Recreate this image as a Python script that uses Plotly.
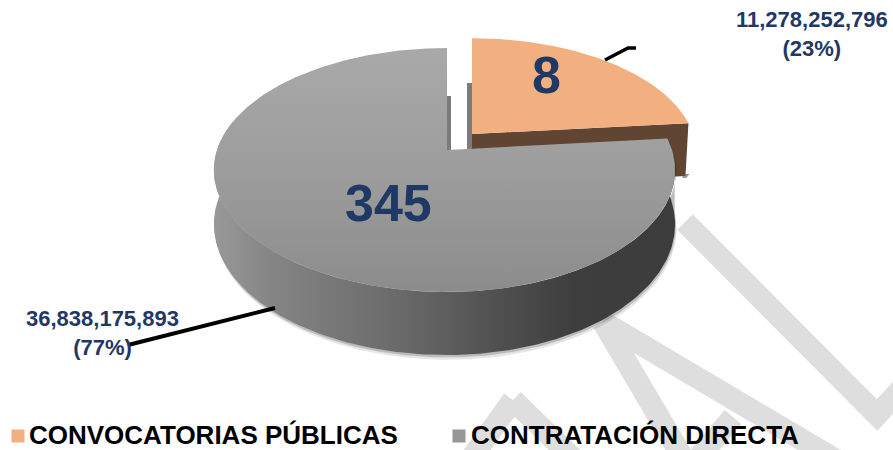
import numpy as np
import plotly.graph_objects as go

categories = ["CONVOCATORIAS PÚBLICAS", "CONTRATACIÓN DIRECTA"]
amounts = [11278252796, 36838175893]
counts = [8, 345]
W, H = 893, 450
NAVY = "#1F3864"
FONT = "Liberation Sans"

# pie geometry (pixels, y down)
GRAY_C = (447, 150)
PEACH_C = (472, 134)
A_R, A_L, B, K = 225, 230, 118.7, 0.164
DEPTH = 52.7
share = amounts[0] / sum(amounts)
split = share * 2 * np.pi


def rim(t, c, drop=0.0, ar=A_R, b=B):
    t = np.asarray(t)
    u, v = np.sin(t), np.cos(t)
    w = 1 + K * v
    a = np.where(u >= 0, ar, A_L)
    return c[0] + a * u / w, c[1] - b * v / w + drop / w


def wedge(t0, t1, c, ar=A_R, b=B):
    t = np.linspace(t0, t1, 240)
    x, y = rim(t, c, ar=ar, b=b)
    return np.r_[c[0], x, c[0]], np.r_[c[1], y, c[1]]


def band(t0, t1, c, extra=0.0):
    t = np.linspace(t0, t1, 240)
    x0, y0 = rim(t, c)
    x1, y1 = rim(t, c, DEPTH + extra)
    return np.r_[x0, x1[::-1], x0[0]], np.r_[y0, y1[::-1], y0[0]]


fig = go.Figure()


def poly(x, y, color=None, grad=None):
    kw = dict(x=x, y=y, mode="lines", fill="toself", line=dict(width=0),
              hoverinfo="skip", showlegend=False)
    if grad:
        kw["fillgradient"] = grad
        kw["fillcolor"] = "rgba(0,0,0,0)"
    else:
        kw["fillcolor"] = color
    fig.add_trace(go.Scatter(**kw))


PEACH_A, PEACH_B = 221, 111.5
# peach wedge: shadow at the left, radial faces, top
poly([PEACH_C[0] - 5, PEACH_C[0], PEACH_C[0], PEACH_C[0] - 5],
     [83, 83, 150, 150], "rgba(80,80,80,0.75)")
ex, ey = rim(split, PEACH_C, ar=PEACH_A, b=PEACH_B)
poly([PEACH_C[0], ex, ex - 3, PEACH_C[0]],
     [PEACH_C[1], ey, ey + DEPTH, PEACH_C[1] + DEPTH], "#604632")
poly([ex - 6, ex + 1, ex - 2, ex - 6],
     [ey + DEPTH - 2, ey + DEPTH - 2, ey + DEPTH + 2, ey + DEPTH + 2],
     "rgba(90,90,90,0.6)")
x, y = wedge(0, split, PEACH_C, ar=PEACH_A, b=PEACH_B)
poly(x, y, "#F2AF80")

# gray wedge: shadow strip, shadow under side, side, top
poly([GRAY_C[0], GRAY_C[0] + 4, GRAY_C[0] + 4, GRAY_C[0]],
     [96, 96, 152, 152], "rgba(90,90,90,0.8)")
for e, a_ in ((4, "rgba(0,0,0,0.10)"), (2, "rgba(0,0,0,0.18)")):
    sx, sy = band(split + 0.15, 2 * np.pi * 0.79, GRAY_C, e)
    poly(sx + e * 0.4, sy, a_)
sx, sy = band(split, 2 * np.pi * 0.79, GRAY_C)
poly(sx, sy, grad=dict(type="horizontal", colorscale=[
    [0, "#999999"], [0.12, "#858585"], [0.4, "#6a6a6a"], [0.65, "#4c4c4c"],
    [0.78, "#3e3e3e"], [1, "#3c3c3c"]]))
x, y = wedge(split, 2 * np.pi, GRAY_C)
poly(x, y, grad=dict(type="vertical", colorscale=[
    [0, "#8c8c8c"], [0.5, "#9d9d9d"], [1, "#a9a9a9"]]))

# leader lines
for lx, ly, lw in (([605, 628, 636], [60, 48, 48], 3.5), ([275, 128], [308, 345], 4)):
    fig.add_trace(go.Scatter(x=lx, y=ly, mode="lines", showlegend=False,
                             hoverinfo="skip",
                             line=dict(color="black", width=lw)))

# legend swatches
LEG_Y = 436
for sx_, col in zip([18, 459], ["#F2AF80", "#979797"]):
    fig.add_trace(go.Scatter(x=[sx_], y=[LEG_Y], mode="markers", showlegend=False,
                             hoverinfo="skip",
                             marker=dict(symbol="square", size=13, color=col)))

# labels
pct = [round(a / sum(amounts) * 100) for a in amounts]
notes = [
    (546, 75, str(counts[0]), 52),
    (388, 203, str(counts[1]), 52),
    (812, 34, f"{amounts[0]:,}<br>({pct[0]}%)", 22),
    (102, 333, f"{amounts[1]:,}<br>({pct[1]}%)", 22),
]
annos = [dict(x=nx, y=ny, text=f"<b>{t}</b>", showarrow=False, xref="x", yref="y",
              xanchor="center", yanchor="middle", align="center",
              font=dict(family=FONT, size=s, color=NAVY))
         for nx, ny, t, s in notes]
for lx, name in zip([27, 469], categories):
    annos.append(dict(x=lx, y=LEG_Y - 1, text=f"<b>{name}</b>", showarrow=False,
                      xref="x", yref="y", xanchor="left", yanchor="middle",
                      font=dict(family=FONT, size=26, color="black")))

# watermark behind the chart
WM = "#DEDEDE"
wm_paths = [
    "M 685 222 L 877 415 L 905 385",
    "M 603 322 L 870 480",
    "M 603 322 L 690 470",
    "M 733 417 L 695 462",
    "M 513 400 L 585 470",
    "M 513 400 L 470 460",
]
shapes = [dict(type="path", path=p, layer="below",
               line=dict(color=WM, width=22)) for p in wm_paths]

fig.update_layout(
    width=W, height=H, margin=dict(l=0, r=0, t=0, b=0),
    paper_bgcolor="white", plot_bgcolor="white", showlegend=False,
    xaxis=dict(range=[0, W], visible=False, fixedrange=True),
    yaxis=dict(range=[H, 0], visible=False, fixedrange=True),
    annotations=annos, shapes=shapes,
)
fig.write_html("out.html", config=dict(displayModeBar=False),
               post_script="document.body.style.margin='0';")
